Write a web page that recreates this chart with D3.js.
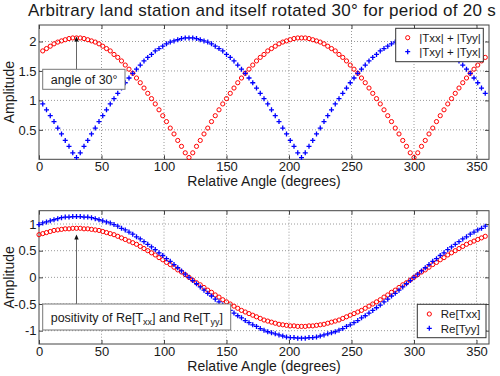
<!DOCTYPE html>
<html>
<head>
<meta charset="utf-8">
<title>Land station rotated 30 degrees</title>
<style>
  body { margin: 0; overflow: hidden; background: #fff; }
  text { font-family: Arial, "Liberation Sans", sans-serif; fill: #1a1a1a; }
</style>
<script src="https://d3js.org/d3.v7.min.js"></script>
</head>
<body>
<svg width="500" height="376"></svg>
<script>
// relative angle (degrees) of each sample
const anglesBottom = [
  0, 3, 6, 9, 12, 15, 18, 21, 24, 27,
  30, 33, 36, 39, 42, 45, 48, 51, 54, 57,
  60, 63, 66, 69, 72, 75, 78, 81, 84, 87,
  90, 93, 96, 99, 102, 105, 108, 111, 114, 117,
  120, 123, 126, 129, 132, 135, 138, 141, 144, 147,
  150, 153, 156, 159, 162, 165, 168, 171, 174, 177,
  180, 183, 186, 189, 192, 195, 198, 201, 204, 207,
  210, 213, 216, 219, 222, 225, 228, 231, 234, 237,
  240, 243, 246, 249, 252, 255, 258, 261, 264, 267,
  270, 273, 276, 279, 282, 285, 288, 291, 294, 297,
  300, 303, 306, 309, 312, 315, 318, 321, 324, 327,
  330, 333, 336, 339, 342, 345, 348, 351, 354, 357
];
const anglesTop = anglesBottom.slice(1);

// |Txx| + |Tyy|
const sumDiag = [
  1.84, 1.88, 1.92, 1.96, 1.99, 2.01, 2.03, 2.05, 2.06, 2.06,
  2.06, 2.05, 2.03, 2.01, 1.99, 1.96, 1.92, 1.88, 1.84, 1.78,
  1.73, 1.67, 1.60, 1.53, 1.46, 1.38, 1.30, 1.21, 1.12, 1.03,
  0.94, 0.84, 0.74, 0.64, 0.53, 0.43, 0.32, 0.22, 0.11, 0.03,
  0.11, 0.22, 0.32, 0.43, 0.53, 0.64, 0.74, 0.84, 0.94, 1.03,
  1.12, 1.21, 1.30, 1.38, 1.46, 1.53, 1.60, 1.67, 1.73, 1.78,
  1.84, 1.88, 1.92, 1.96, 1.99, 2.01, 2.03, 2.05, 2.06, 2.06,
  2.06, 2.05, 2.03, 2.01, 1.99, 1.96, 1.92, 1.88, 1.84, 1.78,
  1.73, 1.67, 1.60, 1.53, 1.46, 1.38, 1.30, 1.21, 1.12, 1.03,
  0.94, 0.84, 0.74, 0.64, 0.53, 0.43, 0.32, 0.22, 0.11, 0.03,
  0.11, 0.22, 0.32, 0.43, 0.53, 0.64, 0.74, 0.84, 0.94, 1.03,
  1.12, 1.21, 1.30, 1.38, 1.46, 1.53, 1.60, 1.67, 1.73
];

// |Txy| + |Tyx|
const sumOff = [
  0.94, 0.84, 0.74, 0.64, 0.53, 0.43, 0.32, 0.22, 0.11, 0.03,
  0.11, 0.22, 0.32, 0.43, 0.53, 0.64, 0.74, 0.84, 0.94, 1.03,
  1.12, 1.21, 1.30, 1.38, 1.46, 1.53, 1.60, 1.67, 1.73, 1.78,
  1.84, 1.88, 1.92, 1.96, 1.99, 2.01, 2.03, 2.05, 2.06, 2.06,
  2.06, 2.05, 2.03, 2.01, 1.99, 1.96, 1.92, 1.88, 1.84, 1.78,
  1.73, 1.67, 1.60, 1.53, 1.46, 1.38, 1.30, 1.21, 1.12, 1.03,
  0.94, 0.84, 0.74, 0.64, 0.53, 0.43, 0.32, 0.22, 0.11, 0.03,
  0.11, 0.22, 0.32, 0.43, 0.53, 0.64, 0.74, 0.84, 0.94, 1.03,
  1.12, 1.21, 1.30, 1.38, 1.46, 1.53, 1.60, 1.67, 1.73, 1.78,
  1.84, 1.88, 1.92, 1.96, 1.99, 2.01, 2.03, 2.05, 2.06, 2.06,
  2.06, 2.05, 2.03, 2.01, 1.99, 1.96, 1.92, 1.88, 1.84, 1.78,
  1.73, 1.67, 1.60, 1.53, 1.46, 1.38, 1.30, 1.21, 1.12
];

// Re[Txx]
const reTxx = [
  0.80, 0.82, 0.84, 0.86, 0.88, 0.89, 0.90, 0.91, 0.91, 0.92,
  0.92, 0.92, 0.91, 0.91, 0.90, 0.89, 0.88, 0.86, 0.84, 0.82,
  0.80, 0.77, 0.74, 0.71, 0.68, 0.65, 0.62, 0.58, 0.54, 0.50,
  0.46, 0.42, 0.37, 0.33, 0.28, 0.24, 0.19, 0.14, 0.10, 0.05,
  0.00, -0.05, -0.10, -0.14, -0.19, -0.24, -0.28, -0.33, -0.37, -0.42,
  -0.46, -0.50, -0.54, -0.58, -0.62, -0.65, -0.68, -0.71, -0.74, -0.77,
  -0.80, -0.82, -0.84, -0.86, -0.88, -0.89, -0.90, -0.91, -0.91, -0.92,
  -0.92, -0.92, -0.91, -0.91, -0.90, -0.89, -0.88, -0.86, -0.84, -0.82,
  -0.80, -0.77, -0.74, -0.71, -0.68, -0.65, -0.62, -0.58, -0.54, -0.50,
  -0.46, -0.42, -0.37, -0.33, -0.28, -0.24, -0.19, -0.14, -0.10, -0.05,
  0.00, 0.05, 0.10, 0.14, 0.19, 0.24, 0.28, 0.33, 0.37, 0.42,
  0.46, 0.50, 0.54, 0.58, 0.62, 0.65, 0.68, 0.71, 0.74, 0.77
];

// Re[Tyy]
const reTyy = [
  0.99, 1.02, 1.04, 1.06, 1.08, 1.10, 1.12, 1.13, 1.13, 1.14,
  1.14, 1.14, 1.13, 1.13, 1.12, 1.10, 1.08, 1.06, 1.04, 1.02,
  0.99, 0.96, 0.92, 0.89, 0.85, 0.81, 0.76, 0.72, 0.67, 0.62,
  0.57, 0.52, 0.46, 0.41, 0.35, 0.30, 0.24, 0.18, 0.12, 0.06,
  0.00, -0.06, -0.12, -0.18, -0.24, -0.30, -0.35, -0.41, -0.46, -0.52,
  -0.57, -0.62, -0.67, -0.72, -0.76, -0.81, -0.85, -0.89, -0.92, -0.96,
  -0.99, -1.02, -1.04, -1.06, -1.08, -1.10, -1.12, -1.13, -1.13, -1.14,
  -1.14, -1.14, -1.13, -1.13, -1.12, -1.10, -1.08, -1.06, -1.04, -1.02,
  -0.99, -0.96, -0.92, -0.89, -0.85, -0.81, -0.76, -0.72, -0.67, -0.62,
  -0.57, -0.52, -0.46, -0.41, -0.35, -0.30, -0.24, -0.18, -0.12, -0.06,
  0.00, 0.06, 0.12, 0.18, 0.24, 0.30, 0.35, 0.41, 0.46, 0.52,
  0.57, 0.62, 0.67, 0.72, 0.76, 0.81, 0.85, 0.89, 0.92, 0.96
];

const xTicks = [0, 50, 100, 150, 200, 250, 300, 350];
const yTicksTop = [0.5, 1, 1.5, 2];
const yTicksBottom = [-1, -0.5, 0, 0.5, 1];

const svg = d3.select('svg');
const plotLeft = 39, plotRight = 489;

svg.append('text')
  .attr('x', 262).attr('y', 15.5)
  .attr('text-anchor', 'middle')
  .style('font-size', '17px')
  .style('letter-spacing', '0.3px')
  .text('Arbitrary land station and itself rotated 30\u00b0 for period of 20 s');

function drawPanel(p) {
  const x = d3.scaleLinear().domain([0, 360]).range([plotLeft, plotRight]);
  const y = d3.scaleLinear().domain(p.yDomain).range([p.bottom, p.top]);
  const g = svg.append('g');
  const fmt = d => String(d);

  g.append('rect')
    .attr('x', plotLeft).attr('y', p.top)
    .attr('width', plotRight - plotLeft).attr('height', p.bottom - p.top)
    .attr('fill', '#fff');

  // dotted grid
  g.append('g').selectAll('line').data(xTicks.slice(1)).join('line')
    .attr('x1', d => x(d)).attr('x2', d => x(d))
    .attr('y1', p.top).attr('y2', p.bottom)
    .attr('stroke', '#9a9a9a').attr('stroke-dasharray', '1,2');
  g.append('g').selectAll('line').data(p.yTicks).join('line')
    .attr('x1', plotLeft).attr('x2', plotRight)
    .attr('y1', d => y(d)).attr('y2', d => y(d))
    .attr('stroke', '#9a9a9a').attr('stroke-dasharray', '1,2');

  const axes = [
    [d3.axisBottom(x).tickValues(xTicks).tickFormat(fmt), `translate(0,${p.bottom})`],
    [d3.axisTop(x).tickValues(xTicks).tickFormat(''), `translate(0,${p.top})`],
    [d3.axisLeft(y).tickValues(p.yTicks).tickFormat(fmt), `translate(${plotLeft},0)`],
    [d3.axisRight(y).tickValues(p.yTicks).tickFormat(''), `translate(${plotRight},0)`]
  ];
  axes.forEach(([ax, tr]) => {
    const a = g.append('g').attr('transform', tr)
      .call(ax.tickSizeInner(-4).tickSizeOuter(0).tickPadding(2.5));
    a.select('.domain').remove();
    a.selectAll('line').attr('stroke', '#444');
    a.selectAll('text').attr('fill', '#1a1a1a')
      .style('font-size', '13px').style('font-family', 'Arial, "Liberation Sans", sans-serif');
  });

  g.append('rect')
    .attr('x', plotLeft).attr('y', p.top)
    .attr('width', plotRight - plotLeft).attr('height', p.bottom - p.top)
    .attr('fill', 'none').attr('stroke', '#444');

  // axis labels
  g.append('text')
    .attr('x', (plotLeft + plotRight) / 2).attr('y', p.bottom + 27)
    .attr('text-anchor', 'middle').style('font-size', '14px')
    .text('Relative Angle (degrees)');
  g.append('text')
    .attr('transform', `translate(13.5,${(p.top + p.bottom) / 2}) rotate(-90)`)
    .attr('text-anchor', 'middle').style('font-size', '14px')
    .text('Amplitude');

  // series markers
  p.series.forEach(s => {
    const pts = s.angles.map((a, i) => [x(a), y(s.values[i])]);
    if (s.marker === 'o') {
      g.append('g').selectAll('circle').data(pts).join('circle')
        .attr('cx', d => d[0]).attr('cy', d => d[1]).attr('r', 2.1)
        .attr('fill', 'none').attr('stroke', s.color).attr('stroke-width', 1);
    } else {
      g.append('g').selectAll('path').data(pts).join('path')
        .attr('d', d => `M${d[0] - 2.5},${d[1]}H${d[0] + 2.5}M${d[0]},${d[1] - 2.5}V${d[1] + 2.5}`)
        .attr('stroke', s.color).attr('stroke-width', 1.3);
    }
  });

  // annotation: box with arrow pointing up
  const an = p.note;
  const ax0 = x(an.angle);
  g.append('line')
    .attr('x1', ax0).attr('x2', ax0)
    .attr('y1', an.boxY).attr('y2', an.tipY + 4)
    .attr('stroke', '#666').attr('stroke-width', 1);
  g.append('path')
    .attr('d', `M${ax0},${an.tipY}L${ax0 - 2.2},${an.tipY + 5}L${ax0 + 2.2},${an.tipY + 5}Z`)
    .attr('fill', '#111');
  g.append('rect')
    .attr('x', an.boxX).attr('y', an.boxY)
    .attr('width', an.boxW).attr('height', an.boxH)
    .attr('fill', '#fff').attr('stroke', '#777');
  const nt = g.append('text')
    .attr('x', an.boxX + 8).attr('y', an.boxY + an.boxH / 2 + 4.5)
    .style('font-size', '12.5px');
  an.parts.forEach(pt => {
    const t = nt.append('tspan').text(pt.t);
    if (pt.sub) t.attr('dy', 3).style('font-size', '9px');
    else if (pt.after) t.attr('dy', -3);
  });

  // legend
  const lg = p.legend;
  g.append('rect')
    .attr('x', lg.x).attr('y', lg.y).attr('width', lg.w).attr('height', lg.h)
    .attr('fill', '#fff').attr('stroke', '#333');
  p.series.forEach((s, i) => {
    const cy = lg.y + lg.rowY[i];
    const cx = lg.x + 12;
    if (s.marker === 'o') {
      g.append('circle').attr('cx', cx).attr('cy', cy).attr('r', 2.1)
        .attr('fill', 'none').attr('stroke', s.color);
    } else {
      g.append('path')
        .attr('d', `M${cx - 2.5},${cy}H${cx + 2.5}M${cx},${cy - 2.5}V${cy + 2.5}`)
        .attr('stroke', s.color).attr('stroke-width', 1.3);
    }
    g.append('text').attr('x', cx + 11.5).attr('y', cy + 4.2)
      .style('font-size', '11.5px').text(s.label);
  });
}

drawPanel({
  top: 25, bottom: 159.3, yDomain: [0, 2.28], yTicks: yTicksTop,
  series: [
    { angles: anglesTop, values: sumDiag, color: '#ff0000', marker: 'o', label: '|Txx| + |Tyy|' },
    { angles: anglesTop, values: sumOff, color: '#0000ff', marker: '+', label: '|Txy| + |Tyx|' }
  ],
  note: { angle: 30, tipY: 36.5, boxX: 42.7, boxY: 69.3, boxW: 82.3, boxH: 20,
          parts: [{ t: 'angle of 30\u00b0' }] },
  legend: { x: 395.7, y: 28.3, w: 87.6, h: 33.4, rowY: [9.4, 23.4] }
});

drawPanel({
  top: 210.7, bottom: 344, yDomain: [-1.25, 1.25], yTicks: yTicksBottom,
  series: [
    { angles: anglesBottom, values: reTxx, color: '#ff0000', marker: 'o', label: 'Re[Txx]' },
    { angles: anglesBottom, values: reTyy, color: '#0000ff', marker: '+', label: 'Re[Tyy]' }
  ],
  note: { angle: 30, tipY: 234.5, boxX: 42.7, boxY: 304, boxW: 188, boxH: 26,
          parts: [{ t: 'positivity of Re[T' }, { t: 'xx', sub: true }, { t: '] and Re[T', after: true },
                  { t: 'yy', sub: true }, { t: ']', after: true }] },
  legend: { x: 417.3, y: 304.3, w: 68.7, h: 33.4, rowY: [9.7, 24] }
});
</script>
</body>
</html>
